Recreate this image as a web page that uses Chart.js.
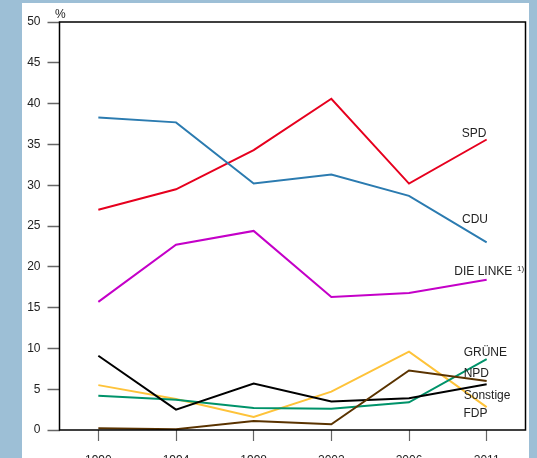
<!DOCTYPE html>
<html>
<head>
<meta charset="utf-8">
<script src="https://cdn.jsdelivr.net/npm/chart.js@4"></script>
<style>
  html, body { margin: 0; padding: 0; background: #9dbfd6; width: 537px; height: 458px; overflow: hidden; }
  #panel { position: absolute; left: 22px; top: 3px; width: 507px; height: 455px; background: #fff; }
</style>
</head>
<body>
<div id="panel"><canvas id="chartVotes"></canvas></div>
<script>
// Landtagswahlen, Anteile in %
const years = ["1990", "1994", "1998", "2002", "2006", "2011"];
const spd = [27.0, 29.5, 34.3, 40.6, 30.2, 35.6];
const cdu = [38.3, 37.7, 30.2, 31.3, 28.7, 23.0];
const linke = [15.7, 22.7, 24.4, 16.3, 16.8, 18.4];
const gruene = [4.2, 3.7, 2.7, 2.6, 3.4, 8.7];
const npd = [0.2, 0.1, 1.1, 0.7, 7.3, 6.0];
const sonstige = [9.1, 2.5, 5.7, 3.5, 3.9, 5.6];
const fdp = [5.5, 3.8, 1.6, 4.7, 9.6, 2.8];
const yTicks = [0, 5, 10, 15, 20, 25, 30, 35, 40, 45, 50];

// Beschriftungen rechts neben den Linien
const lineLabels = [
    { text: "SPD", x: 439.7, y: 130.3 },
    { text: "CDU", x: 440, y: 216.3 },
    { text: "DIE LINKE", x: 432.3, y: 268.7 },
    { text: "GRÜNE", x: 441.7, y: 349.3 },
    { text: "NPD", x: 441.7, y: 370.3 },
    { text: "Sonstige", x: 441.7, y: 392.2 },
    { text: "FDP", x: 441.5, y: 410.8 },
];

const FONT = "'Liberation Sans', Arial, sans-serif";

const frameAndText = {
    id: "frameAndText",
    afterDraw(chart) {
        const ctx = chart.ctx;
        const a = chart.chartArea;
        ctx.save();
        ctx.strokeStyle = "#000";
        ctx.lineWidth = 1.5;
        ctx.strokeRect(a.left, a.top, a.right - a.left, a.bottom - a.top);

        ctx.fillStyle = "#222";
        ctx.textBaseline = "middle";
        ctx.textAlign = "left";
        ctx.font = "12px " + FONT;
        ctx.fillText("%", 33, 12);
        lineLabels.forEach(function (l) {
            ctx.fillText(l.text, l.x, l.y);
        });
        ctx.font = "8px " + FONT;
        ctx.fillText("1)", 495, 265.5);
        ctx.restore();
    },
};

function line (label, values, color) {
    return {
        label: label,
        data: values,
        borderColor: color,
        backgroundColor: color,
        borderWidth: 2,
        pointRadius: 0,
        tension: 0,
        fill: false,
    };
}

const ctxVotes = document.getElementById("chartVotes").getContext("2d");
const chartVotes = new Chart(ctxVotes, {
    type: "line",
    data: {
        labels: years,
        datasets: [
            line("NPD", npd, "#5a3300"),
            line("Sonstige", sonstige, "#000000"),
            line("GRÜNE", gruene, "#00936a"),
            line("FDP", fdp, "#fec33a"),
            line("DIE LINKE", linke, "#c400c8"),
            line("CDU", cdu, "#2b7bb0"),
            line("SPD", spd, "#e6001e"),
        ],
    },
    options: {
        responsive: true,
        maintainAspectRatio: false,
        animation: false,
        layout: {
            padding: { left: 0, right: 3.5, top: 19, bottom: 0 },
        },
        plugins: {
            legend: { display: false },
            tooltip: { enabled: false },
        },
        scales: {
            x: {
                type: "category",
                offset: true,
                grid: {
                    drawOnChartArea: false,
                    offset: false,
                    tickLength: 11,
                    color: "#666",
                    tickWidth: 1.2,
                },
                border: { display: false },
                ticks: {
                    color: "#222",
                    font: { family: FONT, size: 12 },
                    padding: 12,
                    maxRotation: 0,
                },
                afterFit(scale) { scale.height = 28; },
            },
            y: {
                min: 0,
                max: 50,
                afterBuildTicks(scale) {
                    scale.ticks = yTicks.map(function (v) { return { value: v }; });
                },
                grid: {
                    drawOnChartArea: false,
                    tickLength: 12,
                    color: "#666",
                    tickWidth: 1.5,
                },
                border: { display: false },
                ticks: {
                    color: "#222",
                    font: { family: FONT, size: 12 },
                    padding: 7,
                },
                afterFit(scale) { scale.width = 37.5; },
            },
        },
    },
    plugins: [frameAndText],
});
</script>
</body>
</html>
